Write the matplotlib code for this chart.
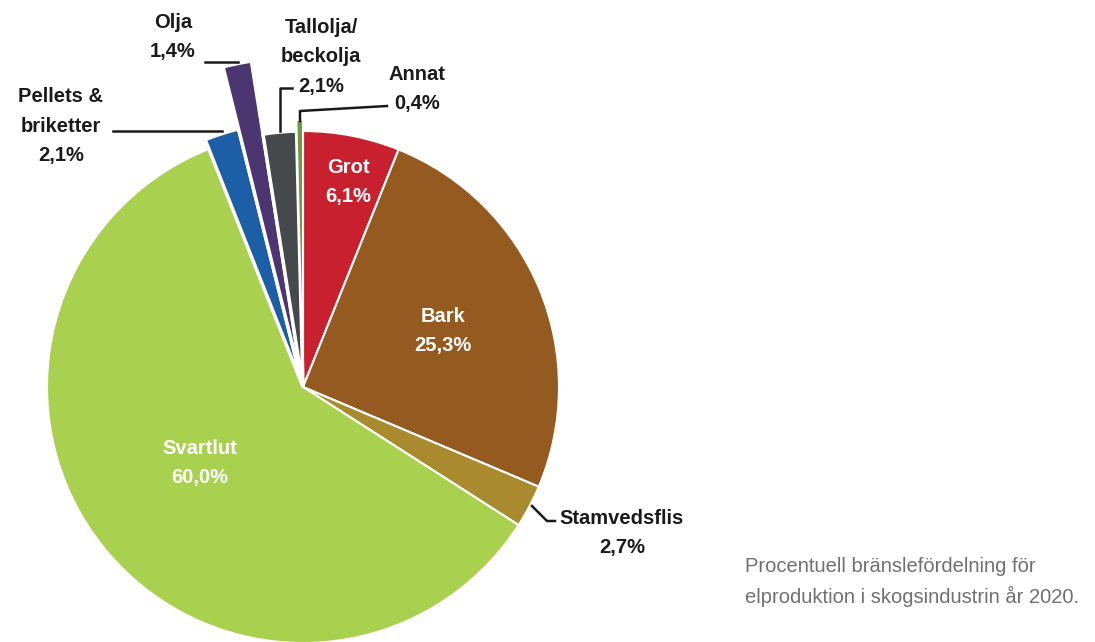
import numpy as np
import matplotlib.pyplot as plt

# data
labels = ['Grot', 'Bark', 'Stamvedsflis', 'Svartlut', 'Pellets &\nbriketter',
          'Olja', 'Tallolja/\nbeckolja', 'Annat']
shares = [6.1, 25.3, 2.7, 60.0, 2.1, 1.4, 2.1, 0.4]
pct_text = ['6,1%', '25,3%', '2,7%', '60,0%', '2,1%', '1,4%', '2,1%', '0,4%']
colors = ['#C9202F', '#955A20', '#A98A2E', '#A9D04F', '#1C5FA6', '#4B3671',
          '#46494C', '#6A9A48']
# wedge lengths (px) - small slices stick out
radii = [256, 256, 256, 256, 266, 330, 256, 267]

W, H = 1095, 642
cx, cy = 303, 387


def Y(y):
    return H - y


fig = plt.figure(figsize=(W / 100, H / 100), dpi=100)
ax = fig.add_axes([0, 0, 1, 1])

wedges, _ = ax.pie(shares, colors=colors, startangle=90, counterclock=False,
                   center=(cx, Y(cy)), radius=256,
                   wedgeprops=dict(edgecolor='white', linewidth=1.5))
for w, r in zip(wedges, radii):
    w.set_radius(r)
# thicker white gaps round the thin slices
for i in (4, 5, 6):
    wedges[i].set_linewidth(2.5)

ax.set_xlim(0, W)
ax.set_ylim(0, H)
ax.set_aspect('equal')
ax.axis('off')

bold = dict(family='Liberation Sans', fontweight='bold', fontsize=14.5,
            ha='center', va='center', linespacing=1.72)

# labels inside the pie
ax.text(348, Y(182), labels[0] + '\n' + pct_text[0], color='white', **bold)
ax.text(443, Y(331), labels[1] + '\n' + pct_text[1], color='white', **bold)
ax.text(200, Y(463), labels[3] + '\n' + pct_text[3], color='white', **bold)

# labels outside with leader lines
dark = '#1a1a1a'
ax.text(622, Y(533), labels[2] + '\n' + pct_text[2], color=dark, **bold)
ax.plot([532, 547, 555], [Y(506), Y(521), Y(521)], color=dark, lw=1.8)

ax.text(61, Y(126), labels[4] + '\n' + pct_text[4], color=dark, **bold)
ax.plot([113, 222], [Y(131), Y(131)], color=dark, lw=1.8)

ax.text(173, Y(37), labels[5] + '\n' + pct_text[5], color=dark, **bold)
ax.plot([205, 238], [Y(62), Y(62)], color=dark, lw=1.8)

ax.text(321, Y(57), labels[6] + '\n' + pct_text[6], color=dark, **bold)
ax.plot([292, 280, 280], [Y(88), Y(88), Y(131)], color=dark, lw=1.8)

ax.text(417, Y(89), labels[7] + '\n' + pct_text[7], color=dark, **bold)
ax.plot([387, 300, 300], [Y(106), Y(111), Y(121)], color=dark, lw=1.8)

# caption
ax.text(745, Y(582), 'Procentuell bränslefördelning för\nelproduktion i skogsindustrin år 2020.',
        family='Liberation Sans', fontsize=14.5, color='#707070',
        ha='left', va='center', linespacing=1.6)

fig.savefig('out.png', dpi=100)
